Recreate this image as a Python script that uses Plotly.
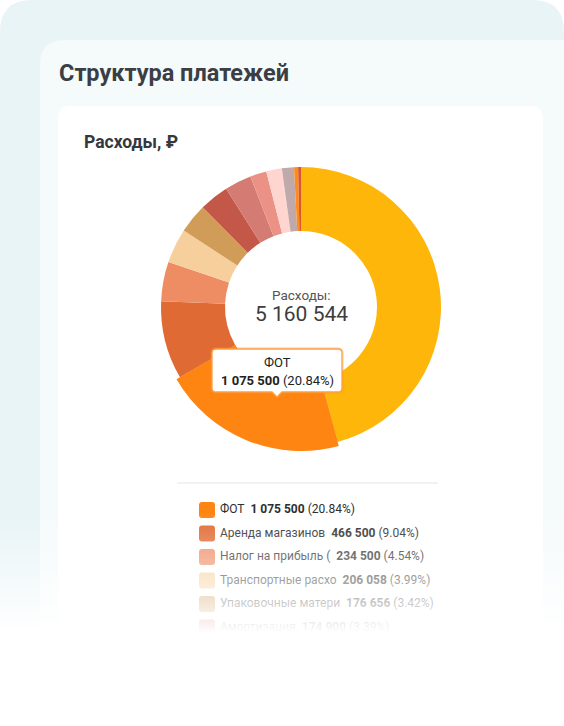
import plotly.graph_objects as go

W, H = 564, 726

# ---------------- data ----------------
chart_title = "Структура платежей"
card_title = "Расходы, ₽"
center_label = "Расходы:"

categories = [
    "Закупка товара", "ФОТ", "Аренда магазинов", "Налог на прибыль (УСН)",
    "Транспортные расходы", "Упаковочные материалы", "Амортизация",
    "Маркетинг", "Коммунальные услуги", "Связь и интернет",
    "Банковские комиссии", "Канцелярия", "Прочее",
]
values = [2362430, 1075500, 466500, 234500, 206058, 176656, 174900,
          160000, 98000, 93000, 72000, 24000, 17000]
colors = ["#FFB60B", "#FF8512", "#E06A33", "#EE8C63", "#F7CF9C", "#D19B58",
          "#C45848", "#D47B73", "#EC9186", "#FFD5D0", "#BFA9AA", "#FF8C1A",
          "#D9562E"]
legend_items = ["ФОТ", "Аренда магазинов", "Налог на прибыль (УСН)",
                "Транспортные расходы", "Упаковочные материалы", "Амортизация"]
highlight = "ФОТ"

# ---------------- helpers ----------------
FONT = "Roboto, 'Noto Sans', sans-serif"
total = sum(values)


def fmt(v):
    return f"{v:,}".replace(",", " ")


def pct(v):
    return f"{v / total * 100:.2f}%"


def Y(y):
    return H - y


def rrect(x0, y0, x1, y1, r):
    return (f"M {x0 + r},{Y(y0)} L {x1 - r},{Y(y0)} Q {x1},{Y(y0)} {x1},{Y(y0 + r)} "
            f"L {x1},{Y(y1 - r)} Q {x1},{Y(y1)} {x1 - r},{Y(y1)} L {x0 + r},{Y(y1)} "
            f"Q {x0},{Y(y1)} {x0},{Y(y1 - r)} L {x0},{Y(y0 + r)} Q {x0},{Y(y0)} {x0 + r},{Y(y0)} Z")


def tooltip_path(x0, y0, x1, y1, r, ax, aw, ah):
    return (f"M {x0 + r},{Y(y0)} L {x1 - r},{Y(y0)} Q {x1},{Y(y0)} {x1},{Y(y0 + r)} "
            f"L {x1},{Y(y1 - r)} Q {x1},{Y(y1)} {x1 - r},{Y(y1)} "
            f"L {ax + aw},{Y(y1)} L {ax},{Y(y1 + ah)} L {ax - aw},{Y(y1)} "
            f"L {x0 + r},{Y(y1)} Q {x0},{Y(y1)} {x0},{Y(y1 - r)} L {x0},{Y(y0 + r)} "
            f"Q {x0},{Y(y0)} {x0 + r},{Y(y0)} Z")


def domain(cx, cy, r):
    return dict(x=[(cx - r) / W, (cx + r) / W], y=[1 - (cy + r) / H, 1 - (cy - r) / H])


# ---------------- pie geometry ----------------
cx, cy, R, R_hover, R_in = 301, 307, 140, 144, 76

fig = go.Figure()

# background cards
shapes = [
    dict(type="path", path=rrect(0, 0, W, 820, 32), fillcolor="#E8F4F6",
         line=dict(width=0), layer="below", xref="x", yref="y"),
    dict(type="path", path=rrect(40, 40, W + 40, 820, 24), fillcolor="#F5FAFB",
         line=dict(width=0), layer="below", xref="x", yref="y"),
    dict(type="path", path=rrect(58, 106, 543, 820, 13), fillcolor="#FFFFFF",
         line=dict(width=0), layer="below", xref="x", yref="y"),
    dict(type="line", x0=177, x1=438, y0=Y(483), y1=Y(483), xref="x", yref="y",
         line=dict(color="#EEEEEE", width=1.5), layer="below"),
]

# legend rows
row0, row_step = 510, 23.5
leg_x, leg_y, leg_txt = [], [], []
for i, name in enumerate(legend_items):
    idx = categories.index(name)
    yy = row0 + i * row_step
    shapes.append(dict(type="path", path=rrect(199, yy - 8, 215, yy + 8, 3),
                       fillcolor=colors[idx], line=dict(width=0), layer="below",
                       xref="x", yref="y"))
    leg_x.append(220)
    leg_y.append(Y(yy))
    leg_txt.append(f"{name[:18]}\u00a0 <b>{fmt(values[idx])}</b> ({pct(values[idx])})")

fig.add_trace(go.Scatter(
    x=leg_x, y=leg_y, text=leg_txt, mode="text", textposition="middle right",
    textfont=dict(family=FONT, size=12, color="#2E2E2E"),
    hoverinfo="skip", showlegend=False, cliponaxis=False))

# fade-out overlay at the bottom
fade_top, fade_full = 512, 633
span = Y(fade_top)
fig.add_trace(go.Scatter(
    x=[0, W, W, 0, 0], y=[Y(fade_top), Y(fade_top), 0, 0, Y(fade_top)],
    mode="lines", fill="toself", line=dict(width=0),
    fillgradient=dict(type="vertical", start=0, stop=span,
                      colorscale=[[0, "rgba(255,255,255,1)"],
                                  [Y(fade_full) / span, "rgba(255,255,255,1)"],
                                  [Y(600) / span, "rgba(255,255,255,0.72)"],
                                  [Y(560) / span, "rgba(255,255,255,0.36)"],
                                  [1, "rgba(255,255,255,0)"]]),
    hoverinfo="skip", showlegend=False))

# donut
fig.add_trace(go.Pie(
    labels=categories, values=values, sort=False, direction="clockwise",
    rotation=0, hole=R_in / R, textinfo="none", hoverinfo="skip",
    marker=dict(colors=colors, line=dict(width=0)),
    domain=domain(cx, cy, R), showlegend=False))

# hovered (enlarged) slice
fig.add_trace(go.Pie(
    labels=categories, values=values, sort=False, direction="clockwise",
    rotation=0, hole=R_in / R_hover, textinfo="none", hoverinfo="skip",
    marker=dict(colors=[c if n == highlight else "rgba(0,0,0,0)"
                        for c, n in zip(colors, categories)], line=dict(width=0)),
    domain=domain(cx, cy, R_hover), showlegend=False))

# tooltip
hi = categories.index(highlight)
tx0, ty0, tx1, ty1 = 212, 349, 342, 392
shapes.append(dict(type="path", path=tooltip_path(tx0, ty0, tx1, ty1, 4, 277, 5, 5),
                   fillcolor="rgba(0,0,0,0)", line=dict(color="rgba(255,140,40,0.25)", width=4),
                   layer="above", xref="x", yref="y"))
shapes.append(dict(type="path", path=tooltip_path(tx0, ty0, tx1, ty1, 4, 277, 5, 5),
                   fillcolor="#FFFFFF", line=dict(color="#FFA040", width=1.3),
                   layer="above", xref="x", yref="y"))

annotations = [
    dict(text=f"<b>{chart_title}</b>", x=57, y=Y(73), xanchor="left", yanchor="middle",
         font=dict(family=FONT, size=23.5, color="#3B3E44")),
    dict(text=f"<b>{card_title}</b>", x=82, y=Y(142), xanchor="left", yanchor="middle",
         font=dict(family=FONT, size=17.5, color="#35383D")),
    dict(text=center_label, x=cx, y=Y(295), xanchor="center", yanchor="middle",
         font=dict(family=FONT, size=13.5, color="#555555")),
    dict(text=fmt(total), x=cx, y=Y(313.5), xanchor="center", yanchor="middle",
         font=dict(family=FONT, size=21, color="#3D3D3D")),
    dict(text=categories[hi], x=(tx0 + tx1) / 2, y=Y(362), xanchor="center", yanchor="middle",
         font=dict(family=FONT, size=13, color="#222222")),
    dict(text=f"<b>{fmt(values[hi])}</b> ({pct(values[hi])})", x=(tx0 + tx1) / 2, y=Y(380),
         xanchor="center", yanchor="middle", font=dict(family=FONT, size=13, color="#222222")),
]
for a in annotations:
    a.update(xref="x", yref="y", showarrow=False)

fig.update_layout(
    width=W, height=H, margin=dict(l=0, r=0, t=0, b=0),
    paper_bgcolor="#FFFFFF", plot_bgcolor="rgba(0,0,0,0)",
    xaxis=dict(range=[0, W], visible=False, fixedrange=True),
    yaxis=dict(range=[0, H], visible=False, fixedrange=True),
    shapes=shapes, annotations=annotations, showlegend=False,
    font=dict(family=FONT), hovermode=False,
)

fig.write_html("out.html", config={"displayModeBar": False})
